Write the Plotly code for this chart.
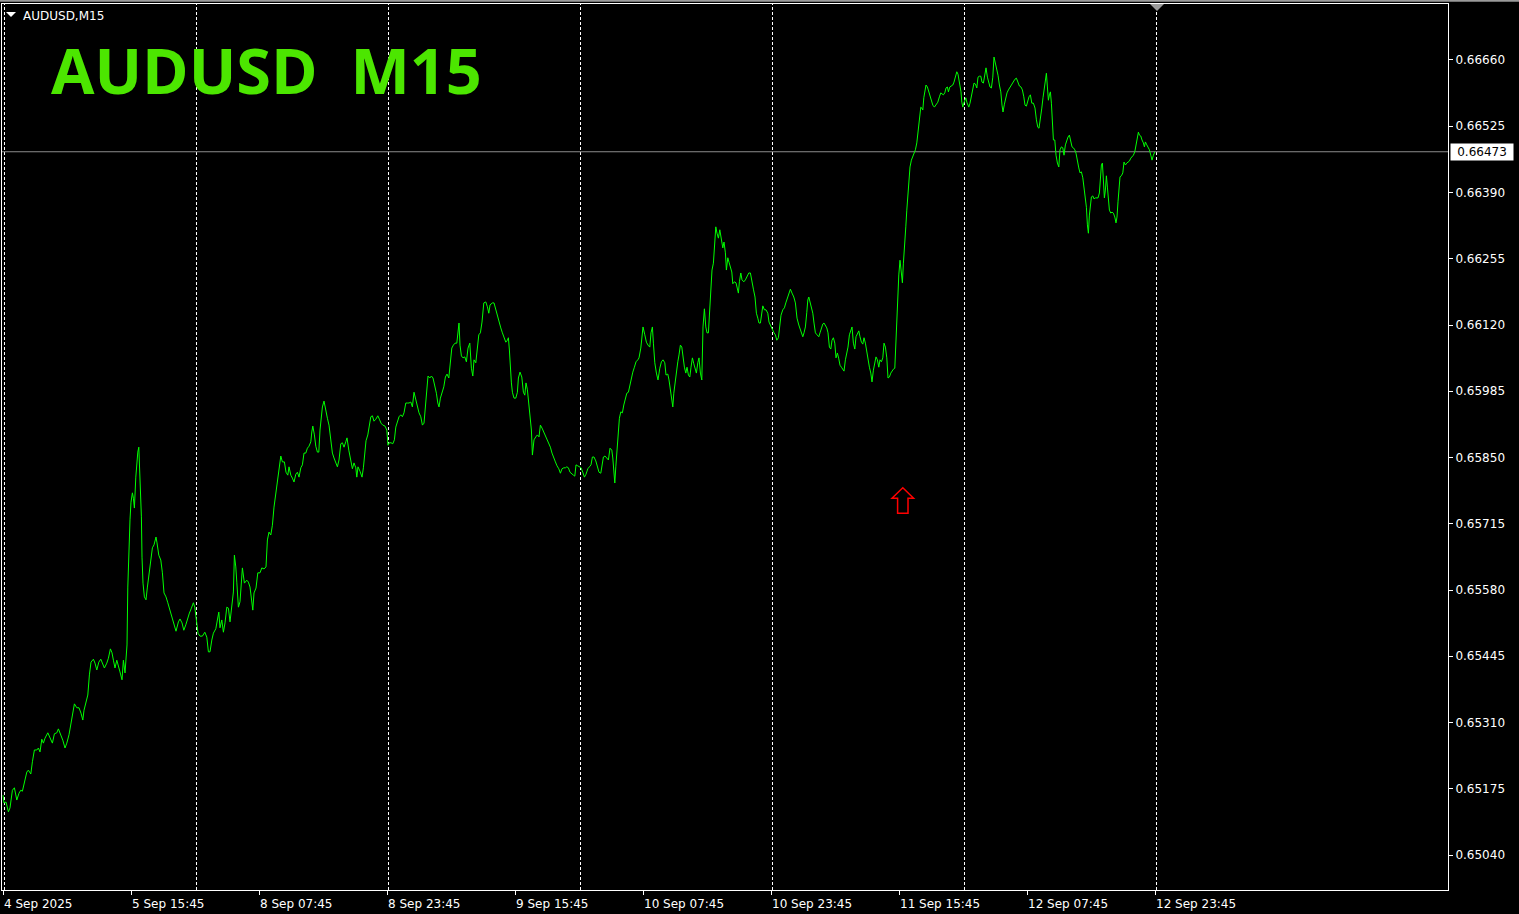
import plotly.graph_objects as go

# ---- data (M15 bar offsets from 4 Sep 23:45, close in 1e-5 price points) ----
bar_offsets = [
    0, 0.5, 1.5, 2.7, 3.5, 4.7, 5.7, 6.9, 8, 8.9,
    9.7, 10.7, 11.9, 12.7, 13.9, 14.7, 15.7, 16.9, 17.7, 18.5,
    19.4, 20.2, 21, 22.4, 23.5, 24.7, 25.7, 26.9, 27.7, 28.9,
    29.9, 31, 31.9, 33, 33.9, 34.9, 35.7, 36.9, 38, 39,
    39.9, 40.5, 41.5, 42.4, 43.2, 44, 45.2, 46, 46.9, 47.9,
    48.9, 49.9, 50.7, 51.9, 52.7, 53.7, 54.5, 55.2, 56, 56.9,
    57.7, 58.5, 59.5, 60.2, 61, 61.5, 62, 62.4, 62.9, 63.5,
    64, 64.7, 65.2, 65.7, 66.4, 66.9, 67.4, 67.9, 68.2, 68.7,
    69.2, 69.5, 70, 70.7, 71.5, 72.2, 73, 73.9, 74.7, 75.5,
    76.5, 77, 77.9, 78.9, 79.7, 80.5, 81.5, 82.4, 83.5, 84.5,
    85.5, 86.5, 87.7, 88.5, 89.5, 90.4, 91.4, 92.4, 93.2, 94.2,
    95.2, 95.9, 96.7, 97.5, 98.5, 99.7, 100.9, 101.9, 102.7, 103.5,
    104.4, 105.2, 106.4, 107.2, 107.9, 108.5, 109.4, 110.2, 111, 111.9,
    112.7, 113.5, 114.4, 115.2, 115.7, 116.4, 116.9, 117.7, 118.5, 119.7,
    120.7, 121.9, 122.7, 123.5, 124.9, 125.5, 126.5, 127.4, 128.5, 129.4,
    130.5, 131.5, 132.2, 133, 133.9, 134.7, 135.5, 136.4, 137.2, 138,
    138.9, 139.7, 140.7, 141.5, 142.4, 143, 143.9, 144.7, 145.5, 146.4,
    147.2, 148, 148.9, 149.7, 150.5, 151.4, 152.2, 153, 153.9, 154.4,
    154.9, 155.7, 156.4, 157.2, 157.9, 158.5, 159, 159.7, 160.5, 161.4,
    162.2, 163, 163.9, 164.7, 165.5, 166.4, 167.2, 168, 168.9, 169.7,
    170.5, 171.4, 172, 172.9, 173.9, 174.7, 175.5, 176.4, 176.9, 177.5,
    178.5, 179.5, 180.2, 180.9, 181.5, 182.4, 183, 183.9, 184.7, 185.5,
    186.4, 187.4, 188.2, 189, 189.9, 191, 191.9, 192.5, 193.2, 194,
    194.9, 195.7, 196.4, 197.2, 198, 198.9, 199.7, 200.5, 201.4, 202.2,
    203, 203.9, 204.7, 205.5, 206.4, 207.2, 208, 208.9, 209.7, 210.5,
    211.2, 211.9, 212.5, 213.4, 214.2, 215, 215.9, 216.7, 217.4, 218,
    218.7, 219.5, 220.4, 221.2, 222, 222.9, 223.5, 224.4, 225.2, 226,
    226.9, 227.5, 228, 228.5, 229.2, 230, 230.9, 231.7, 232.5, 233.4,
    234.2, 234.9, 235.5, 236.4, 237.2, 237.9, 238.7, 239.5, 240.4, 241.4,
    242.2, 242.9, 243.5, 244.7, 245.5, 246.4, 247.2, 248, 248.9, 249.7,
    250.5, 251.4, 252.2, 252.7, 253.2, 253.7, 254.2, 254.7, 255.5, 256.4,
    257.2, 257.7, 258.5, 259.4, 260.2, 260.9, 261.5, 262.2, 262.9, 263.5,
    264.2, 264.7, 265.5, 266.4, 267.2, 268, 268.7, 269.5, 270.4, 271.2,
    272, 272.9, 273.7, 274.5, 275.4, 276.2, 277, 277.9, 278.7, 279.5,
    280.4, 281.2, 281.9, 282.7, 283.5, 284.4, 285.2, 285.9, 286.5, 287.4,
    288.2, 289, 289.9, 290.7, 291.5, 292.4, 293.2, 294, 294.7, 295.5,
    296.4, 297.2, 298, 298.9, 299.5, 300.2, 301, 301.9, 302.7, 303.5,
    304.4, 304.9, 305.4, 305.9, 306.4, 306.9, 307.5, 308.2, 308.9, 309.7,
    310.4, 311, 311.9, 312.7, 313.5, 314.2, 314.9, 315.7, 316.5, 317.4,
    318, 318.9, 319.5, 320, 320.9, 321.7, 322.5, 323.4, 324, 324.7,
    325.2, 325.9, 326.7, 327.5, 328.4, 329.2, 330, 330.9, 331.5, 332.4,
    333, 333.7, 334.4, 334.9, 335.4, 336, 336.7, 337.4, 338, 338.7,
    339.4, 340, 340.7, 341.4, 342, 342.7, 343.4, 344, 344.7, 345.4,
    346, 346.7, 347.4, 348, 348.7, 349.4, 350, 350.7, 351.4, 352,
    352.7, 353.4, 353.9, 354.5, 355.2, 355.7, 356.4, 357, 357.7, 358.4,
    359.4, 359.9, 360.5, 361.2, 361.7, 362.4, 363, 363.7, 364.4, 364.9,
    365.7, 366.5, 367.2, 367.7, 368.2, 368.9, 369.5, 370.4, 371.2, 372,
    372.9, 373.7, 374.4, 375.2, 376, 376.7, 377.4, 378, 378.7, 379.2,
    379.9, 380.7, 381.5, 382.4, 383, 383.9, 384.7, 385.5, 386.2, 386.9,
    387.7, 388.4, 389, 389.9, 390.7, 391.4, 392.2, 393, 393.7, 394.5,
    395.4, 396.2, 397, 397.9, 398.5, 399.2, 399.9, 400.5, 401.2, 401.9,
    402.4, 402.9, 403.5, 404.2, 404.9, 405.5, 406.2, 407, 407.9, 408.5,
    409.2, 409.9, 410.5, 411.2, 411.9, 412.5, 413.2, 413.9, 414.5, 415.2,
    415.9, 416.5, 417.2, 417.9, 418.5, 419.2, 419.9, 420.5, 421.2, 421.9,
    422.5, 423.2, 423.9, 424.5, 425.2, 425.9, 426.5, 427.2, 427.9, 428.5,
    429.2, 429.9, 430.5, 431.2, 431.9, 432.5, 433.2, 433.9, 434.5, 435.2,
    435.9, 436.5, 437.2, 437.9, 438.5, 439.2, 439.9, 440.5, 441.2, 441.9,
    442.5, 443.2, 443.9, 444.5, 445.2, 445.9, 446.4, 446.9, 447.4, 447.9,
    448.5, 449.2, 449.7, 450.2, 450.7, 451.4, 451.9, 452.4, 452.9, 453.5,
    454.2, 454.9, 455.5, 456.2, 456.9, 457.4, 457.9, 458.4, 458.9, 459.4,
    459.9, 460.4, 460.9, 461.5, 462.2, 462.9, 463.5, 464.2, 464.9, 465.7,
    466.5, 467.4, 468.2, 468.9, 469.5, 470.2, 470.9, 471.5, 472.2, 472.7,
    473.4, 474, 474.9, 475.5, 476.2, 476.9, 477.5, 478, 478.5, 479,
    479.4, 479.9, 480.4, 480.9, 481.4, 481.9, 482.4, 482.9, 483.5, 484.2,
    484.9, 485.5, 486.2, 486.9, 487.5, 488.2, 488.9, 489.5, 490.2, 490.9,
    491.5, 492.2, 492.9, 493.5, 494.2, 494.9, 495.5, 496.2, 496.9, 497.5,
    498.2, 498.9, 499.5, 500, 500.7, 501.4, 502, 502.7, 503.5, 504.4,
    505.2, 506, 506.7, 507.4, 508.2, 509, 509.7, 510.4, 511, 511.7,
    512.4, 513, 513.7, 514.4, 515.2, 516, 516.7, 517.4, 518, 518.7,
    519.4, 520, 520.7, 521.2, 521.7, 522.2, 522.7, 523.2, 523.7, 524.2,
    524.7, 525.2, 525.9, 526.5, 527.2, 527.9, 528.5, 529.2, 529.9, 530.5,
    531.2, 531.9, 532.5, 533.2, 533.9, 534.5, 535.2, 535.9, 536.5, 537.2,
    537.9, 538.5, 539.2, 539.9, 540.5, 541.2, 541.7, 542.2, 542.7, 543.2,
    543.7, 544.2, 544.9, 545.5, 546.2, 546.9, 547.5, 548.2, 548.7, 549.2,
    549.7, 550.2, 550.7, 551.2, 551.7, 552.2, 552.7, 553.2, 553.9, 554.5,
    555.2, 555.9, 556.5, 557, 557.5, 558, 558.5, 559.2, 559.9, 560.5,
    561.2, 561.9, 562.5, 563.2, 563.9, 564.5, 565.2, 565.9, 566.5, 567.2,
    567.7, 568.2, 568.9, 569.5, 570.2, 570.7, 571.2, 571.9, 572.5, 573.2,
    573.9, 574.5, 575.2, 575.9,
]

close_points = [
    65162, 65146, 65148, 65128, 65136, 65172, 65177, 65152, 65166, 65172,
    65170, 65189, 65209, 65213, 65205, 65230, 65254, 65254, 65258, 65250,
    65276, 65268, 65278, 65289, 65280, 65268, 65287, 65289, 65297, 65285,
    65274, 65258, 65268, 65285, 65305, 65329, 65348, 65340, 65340, 65329,
    65315, 65335, 65352, 65366, 65407, 65433, 65439, 65431, 65417, 65433,
    65439, 65427, 65421, 65431, 65441, 65460, 65452, 65437, 65421, 65437,
    65427, 65413, 65397, 65437, 65411, 65452, 65468, 65586, 65657, 65723,
    65759, 65778, 65767, 65747, 65810, 65845, 65861, 65871, 65845, 65798,
    65729, 65647, 65594, 65566, 65560, 65586, 65611, 65635, 65666, 65672,
    65688, 65676, 65651, 65641, 65615, 65574, 65566, 65554, 65539, 65523,
    65513, 65496, 65515, 65521, 65513, 65498, 65509, 65525, 65533, 65543,
    65554, 65545, 65513, 65492, 65486, 65486, 65494, 65484, 65454, 65454,
    65478, 65492, 65501, 65519, 65535, 65503, 65519, 65494, 65513, 65545,
    65543, 65515, 65543, 65576, 65651, 65627, 65596, 65545, 65556, 65625,
    65594, 65600, 65596, 65586, 65539, 65574, 65584, 65615, 65615, 65625,
    65623, 65627, 65682, 65698, 65692, 65712, 65749, 65774, 65798, 65820,
    65853, 65841, 65841, 65820, 65814, 65831, 65814, 65808, 65800, 65816,
    65820, 65810, 65829, 65835, 65859, 65859, 65869, 65873, 65882, 65902,
    65914, 65896, 65873, 65861, 65861, 65906, 65926, 65953, 65965, 65943,
    65930, 65916, 65880, 65859, 65849, 65839, 65831, 65845, 65878, 65880,
    65871, 65882, 65890, 65865, 65847, 65827, 65839, 65829, 65810, 65831,
    65822, 65810, 65829, 65855, 65884, 65896, 65912, 65933, 65935, 65924,
    65928, 65935, 65928, 65920, 65916, 65914, 65906, 65875, 65880, 65880,
    65878, 65886, 65912, 65922, 65933, 65937, 65933, 65941, 65961, 65961,
    65961, 65963, 65953, 65983, 65967, 65951, 65941, 65933, 65916, 65920,
    65953, 65981, 66016, 66012, 66016, 66012, 65998, 65981, 65961, 65953,
    65971, 65981, 65994, 66014, 66020, 66012, 66043, 66073, 66079, 66083,
    66083, 66114, 66124, 66079, 66057, 66053, 66055, 66045, 66073, 66083,
    66032, 66016, 66049, 66043, 66069, 66100, 66104, 66126, 66165, 66167,
    66157, 66144, 66161, 66165, 66165, 66151, 66136, 66126, 66114, 66104,
    66094, 66085, 66089, 66094, 66069, 66028, 66002, 65983, 65971, 65971,
    65983, 66012, 66024, 66014, 65983, 65977, 66002, 65988, 65963, 65930,
    65906, 65855, 65886, 65892, 65896, 65892, 65916, 65910, 65902, 65896,
    65888, 65880, 65871, 65859, 65847, 65841, 65833, 65827, 65818, 65827,
    65829, 65829, 65831, 65829, 65820, 65816, 65814, 65812, 65835, 65833,
    65831, 65829, 65820, 65810, 65816, 65827, 65831, 65835, 65851, 65851,
    65843, 65833, 65820, 65818, 65839, 65851, 65853, 65849, 65845, 65869,
    65865, 65849, 65818, 65798, 65831, 65861, 65902, 65930, 65943, 65941,
    65957, 65967, 65981, 65983, 65998, 66014, 66024, 66034, 66045, 66049,
    66053, 66073, 66104, 66116, 66100, 66085, 66079, 66075, 66104, 66116,
    66083, 66043, 66022, 66008, 66032, 66045, 66049, 66043, 66018, 66020,
    66008, 65983, 65961, 65953, 65981, 66004, 66028, 66045, 66059, 66079,
    66075, 66053, 66034, 66022, 66034, 66018, 66014, 66034, 66053, 66041,
    66032, 66022, 66043, 66053, 66022, 66008, 66116, 66153, 66116, 66104,
    66104, 66151, 66197, 66232, 66246, 66287, 66320, 66307, 66297, 66314,
    66289, 66277, 66289, 66267, 66232, 66257, 66248, 66238, 66228, 66204,
    66208, 66206, 66195, 66185, 66208, 66226, 66212, 66208, 66212, 66218,
    66226, 66226, 66206, 66193, 66177, 66144, 66134, 66124, 66124, 66140,
    66159, 66151, 66151, 66144, 66126, 66118, 66110, 66104, 66100, 66089,
    66094, 66120, 66140, 66151, 66155, 66165, 66175, 66185, 66193, 66185,
    66177, 66165, 66134, 66120, 66114, 66104, 66096, 66104, 66116, 66146,
    66171, 66177, 66167, 66157, 66144, 66124, 66104, 66100, 66096, 66104,
    66114, 66122, 66124, 66120, 66114, 66104, 66075, 66071, 66089, 66094,
    66083, 66053, 66063, 66051, 66038, 66034, 66030, 66026, 66049, 66063,
    66075, 66100, 66110, 66116, 66083, 66071, 66096, 66104, 66108, 66096,
    66085, 66081, 66094, 66083, 66065, 66045, 66034, 66022, 66004, 66028,
    66043, 66055, 66049, 66034, 66049, 66045, 66053, 66083, 66075, 66053,
    66012, 66014, 66022, 66026, 66030, 66032, 66089, 66136, 66191, 66222,
    66252, 66218, 66206, 66246, 66287, 66320, 66354, 66389, 66420, 66442,
    66456, 66464, 66470, 66477, 66491, 66513, 66534, 66554, 66564, 66562,
    66558, 66583, 66599, 66609, 66605, 66595, 66583, 66574, 66568, 66564,
    66570, 66574, 66585, 66593, 66591, 66589, 66593, 66603, 66605, 66595,
    66605, 66607, 66609, 66615, 66625, 66636, 66631, 66619, 66605, 66595,
    66574, 66564, 66572, 66578, 66583, 66574, 66568, 66564, 66572, 66589,
    66605, 66613, 66611, 66603, 66625, 66627, 66627, 66615, 66613, 66629,
    66644, 66625, 66613, 66605, 66603, 66625, 66666, 66654, 66636, 66629,
    66609, 66595, 66568, 66554, 66570, 66583, 66593, 66599, 66605, 66611,
    66615, 66621, 66623, 66613, 66607, 66605, 66599, 66585, 66568, 66566,
    66578, 66585, 66589, 66572, 66572, 66562, 66538, 66523, 66521, 66538,
    66562, 66583, 66603, 66619, 66633, 66605, 66578, 66589, 66595, 66572,
    66521, 66497, 66497, 66466, 66450, 66442, 66477, 66483, 66481, 66466,
    66487, 66499, 66503, 66507, 66497, 66483, 66481, 66477, 66470, 66452,
    66440, 66430, 66432, 66420, 66397, 66379, 66360, 66324, 66307, 66344,
    66362, 66381, 66383, 66377, 66379, 66379, 66379, 66389, 66411, 66446,
    66450, 66401, 66379, 66395, 66424, 66401, 66369, 66354, 66348, 66350,
    66348, 66340, 66328, 66340, 66371, 66411, 66422, 66424, 66430, 66452,
    66446, 66450, 66452, 66454, 66460, 66462, 66466, 66473, 66487, 66503,
    66513, 66507, 66505, 66497, 66491, 66483, 66493, 66487, 66483, 66477,
    66466, 66456, 66466, 66473,
]

time_tick_bars = [0, 64, 128, 192, 256, 320, 384, 448, 512, 576]
time_tick_labels = ["4 Sep 2025", "5 Sep 15:45", "8 Sep 07:45", "8 Sep 23:45", "9 Sep 15:45",
                    "10 Sep 07:45", "10 Sep 23:45", "11 Sep 15:45", "12 Sep 07:45", "12 Sep 23:45"]
day_separator_bars = [0.75, 96.75, 192.75, 288.75, 384.75, 480.75, 576.75]
price_ticks = [0.65040, 0.65175, 0.65310, 0.65445, 0.65580, 0.65715, 0.65850,
               0.65985, 0.66120, 0.66255, 0.66390, 0.66525, 0.66660]
price_range = [0.649687, 0.667741]
bar_range = [-0.5, 722.5]
arrow_bar, arrow_price = 449.9, 0.657885
symbol_label = "AUDUSD,M15"
big_title = "AUDUSD\u00a0\u00a0M15"

close = [p / 1e5 for p in close_points]
last_price = close[-1]

FONT = "DejaVu Sans"
fig = go.Figure()
fig.add_trace(go.Scatter(x=bar_offsets, y=close, mode="lines",
                         line=dict(color="#00ff00", width=1), hoverinfo="skip"))

shapes = []
for b in day_separator_bars:
    shapes.append(dict(type="line", xref="x", yref="paper", x0=b, x1=b, y0=0, y1=1,
                       line=dict(color="#ffffff", width=1, dash="3px,2px"), layer="below"))
shapes.append(dict(type="line", xref="paper", yref="y", x0=0, x1=1, y0=last_price, y1=last_price,
                   line=dict(color="#8c8c8c", width=1), layer="below"))
# red up-arrow object
shapes.append(dict(type="path", xref="x", yref="y", xsizemode="pixel", ysizemode="pixel",
                   xanchor=arrow_bar, yanchor=arrow_price,
                   path="M0,0 L10.8,-10.6 L5.2,-10.6 L5.2,-25.6 L-5.2,-25.6 L-5.2,-10.6 L-10.8,-10.6 Z",
                   line=dict(color="#ff0000", width=1.5)))
# small white triangle top-left
shapes.append(dict(type="path", xref="paper", yref="paper", xsizemode="pixel", ysizemode="pixel",
                   xanchor=0, yanchor=1,
                   path="M4,-8 L14,-8 L9,-13 Z", fillcolor="#ffffff", line=dict(width=0)))
# shift marker triangle at top
shapes.append(dict(type="path", xref="x", yref="paper", xsizemode="pixel", ysizemode="pixel",
                   xanchor=577, yanchor=1,
                   path="M-7,0 L7,0 L0,-7 Z", fillcolor="#9a9a9a", line=dict(width=0)))
# thin window frame line at very top
shapes.append(dict(type="line", xref="paper", yref="paper", x0=-0.01, x1=1.1,
                   y0=1.0037, y1=1.0037, line=dict(color="#9a9a9a", width=2)))

annotations = [
    dict(xref="paper", yref="paper", x=0.0131, y=0.9868, xanchor="left", yanchor="middle",
         text=symbol_label, showarrow=False, font=dict(family=FONT, size=12, color="#ffffff")),
    dict(xref="paper", yref="paper", x=0.0328, y=0.9257, xanchor="left", yanchor="middle",
         text=big_title, showarrow=False,
         font=dict(family="Open Sans", size=63, color="#4ce600", weight="bold")),
    dict(xref="paper", yref="y", x=1, y=last_price, xshift=2, xanchor="left", yanchor="middle",
         text=f"{last_price:.5f}", showarrow=False, bgcolor="#ffffff", width=60, height=14,
         borderpad=1, align="center", font=dict(family=FONT, size=12, color="#000000")),
]

fig.update_layout(
    width=1519, height=914,
    paper_bgcolor="#000000", plot_bgcolor="#000000",
    margin=dict(l=2, r=71, t=4, b=24),
    showlegend=False,
    shapes=shapes, annotations=annotations,
    xaxis=dict(range=bar_range, tickmode="array", tickvals=time_tick_bars, ticktext=time_tick_labels,
               ticks="outside", ticklen=4, tickcolor="#ffffff", showline=True, linecolor="#ffffff",
               linewidth=1, mirror=True, showgrid=False, zeroline=False, automargin=False,
               ticklabelposition="outside right", ticklabelstandoff=3,
               tickfont=dict(family=FONT, size=12, color="#ffffff")),
    yaxis=dict(range=price_range, side="right", tickmode="array", tickvals=price_ticks,
               ticktext=[f"{v:.5f}" for v in price_ticks],
               ticks="outside", ticklen=4, tickcolor="#ffffff", showline=True, linecolor="#ffffff",
               linewidth=1, mirror=True, showgrid=False, zeroline=False, automargin=False,
               tickfont=dict(family=FONT, size=12, color="#ffffff")),
)

fig.write_html(
    "out.html",
    config={"displayModeBar": False},
    post_script="document.body.style.margin='0';document.body.style.background='#000';"
                "document.documentElement.style.overflow='hidden';",
)
